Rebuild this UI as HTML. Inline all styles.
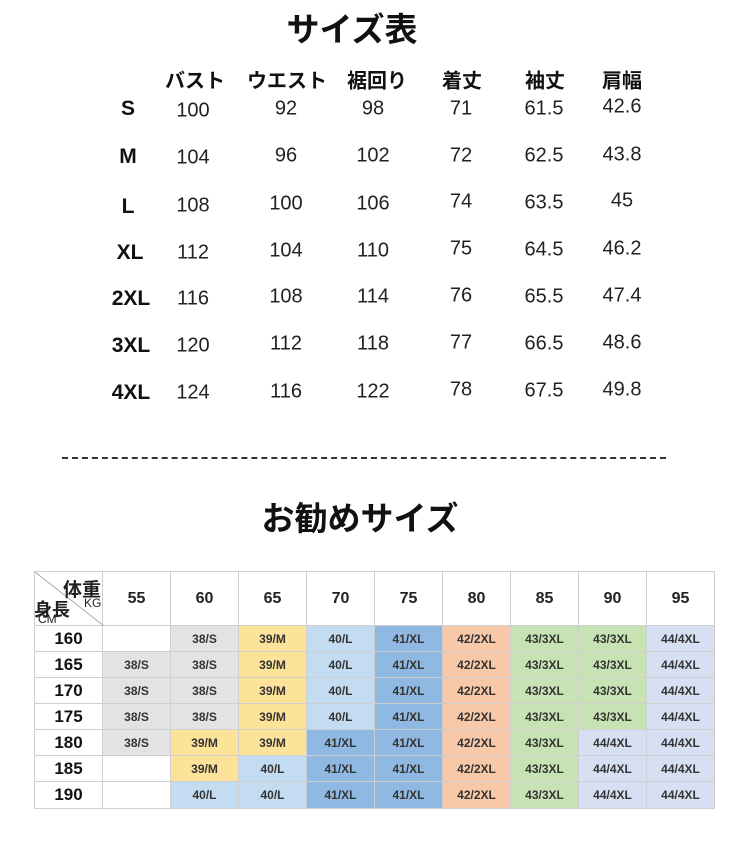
<!DOCTYPE html>
<html><head><meta charset="utf-8"><style>
body{margin:0;width:750px;height:842px;background:#fff;position:relative;overflow:hidden;font-family:"Liberation Sans","Noto Sans CJK JP",sans-serif;color:#111}
.a{position:absolute;transform:translate(-50%,-50%);white-space:nowrap}
.t{font-size:33px;font-weight:bold}
.h{font-size:20px;font-weight:bold}
.n{font-size:20px;font-family:"Liberation Sans Narrow","Liberation Sans",sans-serif;color:#222}
.s{font-size:21px;font-weight:bold}
table{position:absolute;left:34px;top:571px;border-collapse:collapse;table-layout:fixed;width:681px}
td{border:1.5px solid #cfcfcf;text-align:center;font-size:12px;font-weight:bold;color:#333;padding:0;height:25px;overflow:visible}
tr.hd td{height:53px;font-size:16px;color:#222;background:#fff}
td.r{font-size:17px;color:#111;background:#fff}
td span{white-space:nowrap}
.g{background:#e3e3e3}.y{background:#fde39a}.lb{background:#c4dcf1}.b{background:#8fb9e2}.o{background:#f8c9a8}.gr{background:#c7e3b4}.lv{background:#d7e0f3}
</style></head><body>
<div class="a t" style="left:352px;top:27px">サイズ表</div>
<div class="a h" style="left:195px;top:79px">バスト</div>
<div class="a h" style="left:287px;top:79px">ウエスト</div>
<div class="a h" style="left:377px;top:79px">裾回り</div>
<div class="a h" style="left:462px;top:79px">着丈</div>
<div class="a h" style="left:545px;top:79px">袖丈</div>
<div class="a h" style="left:622px;top:79px">肩幅</div>

<div class="a s" style="left:128px;top:109px">S</div>
<div class="a s" style="left:128px;top:157px">M</div>
<div class="a s" style="left:128px;top:207px">L</div>
<div class="a s" style="left:130px;top:253px">XL</div>
<div class="a s" style="left:131px;top:299px">2XL</div>
<div class="a s" style="left:131px;top:346px">3XL</div>
<div class="a s" style="left:131px;top:393px">4XL</div>

<div class="a n" style="left:193px;top:111px">100</div><div class="a n" style="left:286px;top:109px">92</div><div class="a n" style="left:373px;top:109px">98</div><div class="a n" style="left:461px;top:109px">71</div><div class="a n" style="left:544px;top:109px">61.5</div><div class="a n" style="left:622px;top:107px">42.6</div>
<div class="a n" style="left:193px;top:158px">104</div><div class="a n" style="left:286px;top:156px">96</div><div class="a n" style="left:373px;top:156px">102</div><div class="a n" style="left:461px;top:156px">72</div><div class="a n" style="left:544px;top:156px">62.5</div><div class="a n" style="left:622px;top:155px">43.8</div>
<div class="a n" style="left:193px;top:206px">108</div><div class="a n" style="left:286px;top:204px">100</div><div class="a n" style="left:373px;top:204px">106</div><div class="a n" style="left:461px;top:202px">74</div><div class="a n" style="left:544px;top:203px">63.5</div><div class="a n" style="left:622px;top:201px">45</div>
<div class="a n" style="left:193px;top:253px">112</div><div class="a n" style="left:286px;top:251px">104</div><div class="a n" style="left:373px;top:251px">110</div><div class="a n" style="left:461px;top:249px">75</div><div class="a n" style="left:544px;top:250px">64.5</div><div class="a n" style="left:622px;top:249px">46.2</div>
<div class="a n" style="left:193px;top:299px">116</div><div class="a n" style="left:286px;top:297px">108</div><div class="a n" style="left:373px;top:297px">114</div><div class="a n" style="left:461px;top:296px">76</div><div class="a n" style="left:544px;top:297px">65.5</div><div class="a n" style="left:622px;top:296px">47.4</div>
<div class="a n" style="left:193px;top:346px">120</div><div class="a n" style="left:286px;top:344px">112</div><div class="a n" style="left:373px;top:344px">118</div><div class="a n" style="left:461px;top:343px">77</div><div class="a n" style="left:544px;top:344px">66.5</div><div class="a n" style="left:622px;top:343px">48.6</div>
<div class="a n" style="left:193px;top:393px">124</div><div class="a n" style="left:286px;top:392px">116</div><div class="a n" style="left:373px;top:392px">122</div><div class="a n" style="left:461px;top:390px">78</div><div class="a n" style="left:544px;top:391px">67.5</div><div class="a n" style="left:622px;top:390px">49.8</div>

<div style="position:absolute;left:62px;top:457px;width:604px;border-top:2px dashed #333"></div>
<div class="a t" style="left:360px;top:516px">お勧めサイズ</div>

<table>
<tr class="hd"><td style="position:relative;background:#fff">
<svg width="69" height="54" style="position:absolute;left:0;top:0"><line x1="0" y1="0" x2="69" y2="54" stroke="#aaa" stroke-width="1"/></svg>
<span style="position:absolute;left:28px;top:3px;font-size:19px">体重</span>
<span style="position:absolute;left:49px;top:24px;font-size:12px;font-weight:normal">KG</span>
<span style="position:absolute;left:-1px;top:24px;font-size:18px">身長</span>
<span style="position:absolute;left:3px;top:40px;font-size:12px;font-weight:normal">CM</span>
</td><td>55</td><td>60</td><td>65</td><td>70</td><td>75</td><td>80</td><td>85</td><td>90</td><td>95</td></tr>
<tr><td class="r">160</td><td></td><td class="g">38/S</td><td class="y">39/M</td><td class="lb">40/L</td><td class="b">41/XL</td><td class="o">42/2XL</td><td class="gr">43/3XL</td><td class="gr">43/3XL</td><td class="lv">44/4XL</td></tr>
<tr><td class="r">165</td><td class="g">38/S</td><td class="g">38/S</td><td class="y">39/M</td><td class="lb">40/L</td><td class="b">41/XL</td><td class="o">42/2XL</td><td class="gr">43/3XL</td><td class="gr">43/3XL</td><td class="lv">44/4XL</td></tr>
<tr><td class="r">170</td><td class="g">38/S</td><td class="g">38/S</td><td class="y">39/M</td><td class="lb">40/L</td><td class="b">41/XL</td><td class="o">42/2XL</td><td class="gr">43/3XL</td><td class="gr">43/3XL</td><td class="lv">44/4XL</td></tr>
<tr><td class="r">175</td><td class="g">38/S</td><td class="g">38/S</td><td class="y">39/M</td><td class="lb">40/L</td><td class="b">41/XL</td><td class="o">42/2XL</td><td class="gr">43/3XL</td><td class="gr">43/3XL</td><td class="lv">44/4XL</td></tr>
<tr><td class="r">180</td><td class="g">38/S</td><td class="y">39/M</td><td class="y">39/M</td><td class="b">41/XL</td><td class="b">41/XL</td><td class="o">42/2XL</td><td class="gr">43/3XL</td><td class="lv">44/4XL</td><td class="lv">44/4XL</td></tr>
<tr><td class="r">185</td><td></td><td class="y">39/M</td><td class="lb">40/L</td><td class="b">41/XL</td><td class="b">41/XL</td><td class="o">42/2XL</td><td class="gr">43/3XL</td><td class="lv">44/4XL</td><td class="lv">44/4XL</td></tr>
<tr><td class="r" style="height:26px">190</td><td></td><td class="lb">40/L</td><td class="lb">40/L</td><td class="b">41/XL</td><td class="b">41/XL</td><td class="o">42/2XL</td><td class="gr">43/3XL</td><td class="lv">44/4XL</td><td class="lv">44/4XL</td></tr>
</table>
</body></html>
